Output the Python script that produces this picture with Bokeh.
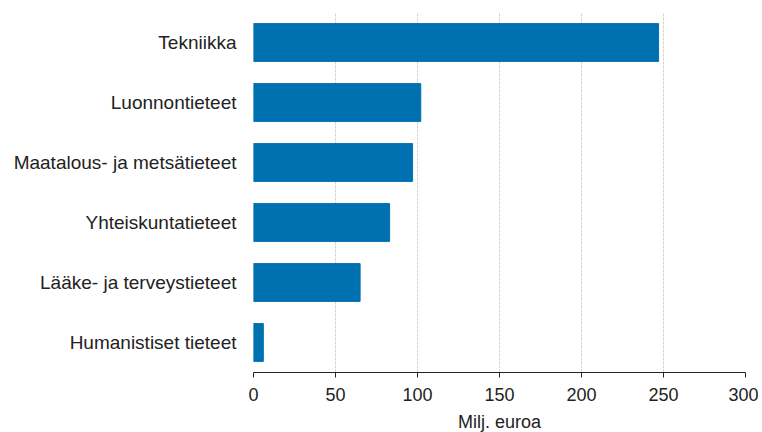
from bokeh.plotting import figure
from bokeh.models import FactorRange, Range1d, FixedTicker
from bokeh.embed import file_html
from bokeh.resources import INLINE

categories = ["Tekniikka", "Luonnontieteet", "Maatalous- ja metsätieteet",
              "Yhteiskuntatieteet", "Lääke- ja terveystieteet", "Humanistiset tieteet"]
values = [247, 102, 97, 83, 65, 6]
x_ticks = [0, 50, 100, 150, 200, 250, 300]
x_label = "Milj. euroa"

FONT = "Liberation Sans"

p = figure(
    y_range=FactorRange(factors=list(reversed(categories))),
    x_range=Range1d(0, 300),
    frame_width=492, frame_height=360,
    min_border_left=253, min_border_right=13, min_border_top=12, min_border_bottom=2,
    output_backend="svg", toolbar_location=None,
)
p.outline_line_color = None
p.background_fill_color = "white"
p.border_fill_color = "white"

p.hbar(y=categories, right=values, left=0, height=0.63, color="#0071B0")

p.ygrid.grid_line_color = None
p.xgrid.grid_line_color = "#d4d4d4"
p.xgrid.grid_line_dash = "3 1"
p.xgrid.grid_line_width = 1

xa = p.xaxis[0]
xa.ticker = FixedTicker(ticks=x_ticks)
xa.axis_label = x_label
xa.axis_label_text_font = FONT
xa.axis_label_text_font_size = "18px"
xa.axis_label_text_font_style = "normal"
xa.axis_label_text_color = "#222222"
xa.axis_label_standoff = 8
xa.major_label_text_font = FONT
xa.major_label_text_font_size = "18px"
xa.major_label_text_color = "#222222"
xa.major_label_standoff = 10
xa.axis_line_color = "#222222"
xa.major_tick_line_color = "#222222"
xa.major_tick_out = 5
xa.major_tick_in = 0
xa.minor_tick_line_color = None

ya = p.yaxis[0]
ya.axis_line_color = None
ya.major_tick_line_color = None
ya.minor_tick_line_color = None
ya.major_label_text_font = FONT
ya.major_label_text_font_size = "19px"
ya.major_label_text_color = "#222222"
ya.major_label_standoff = 11

open("out.html", "w").write(file_html(p, INLINE))
